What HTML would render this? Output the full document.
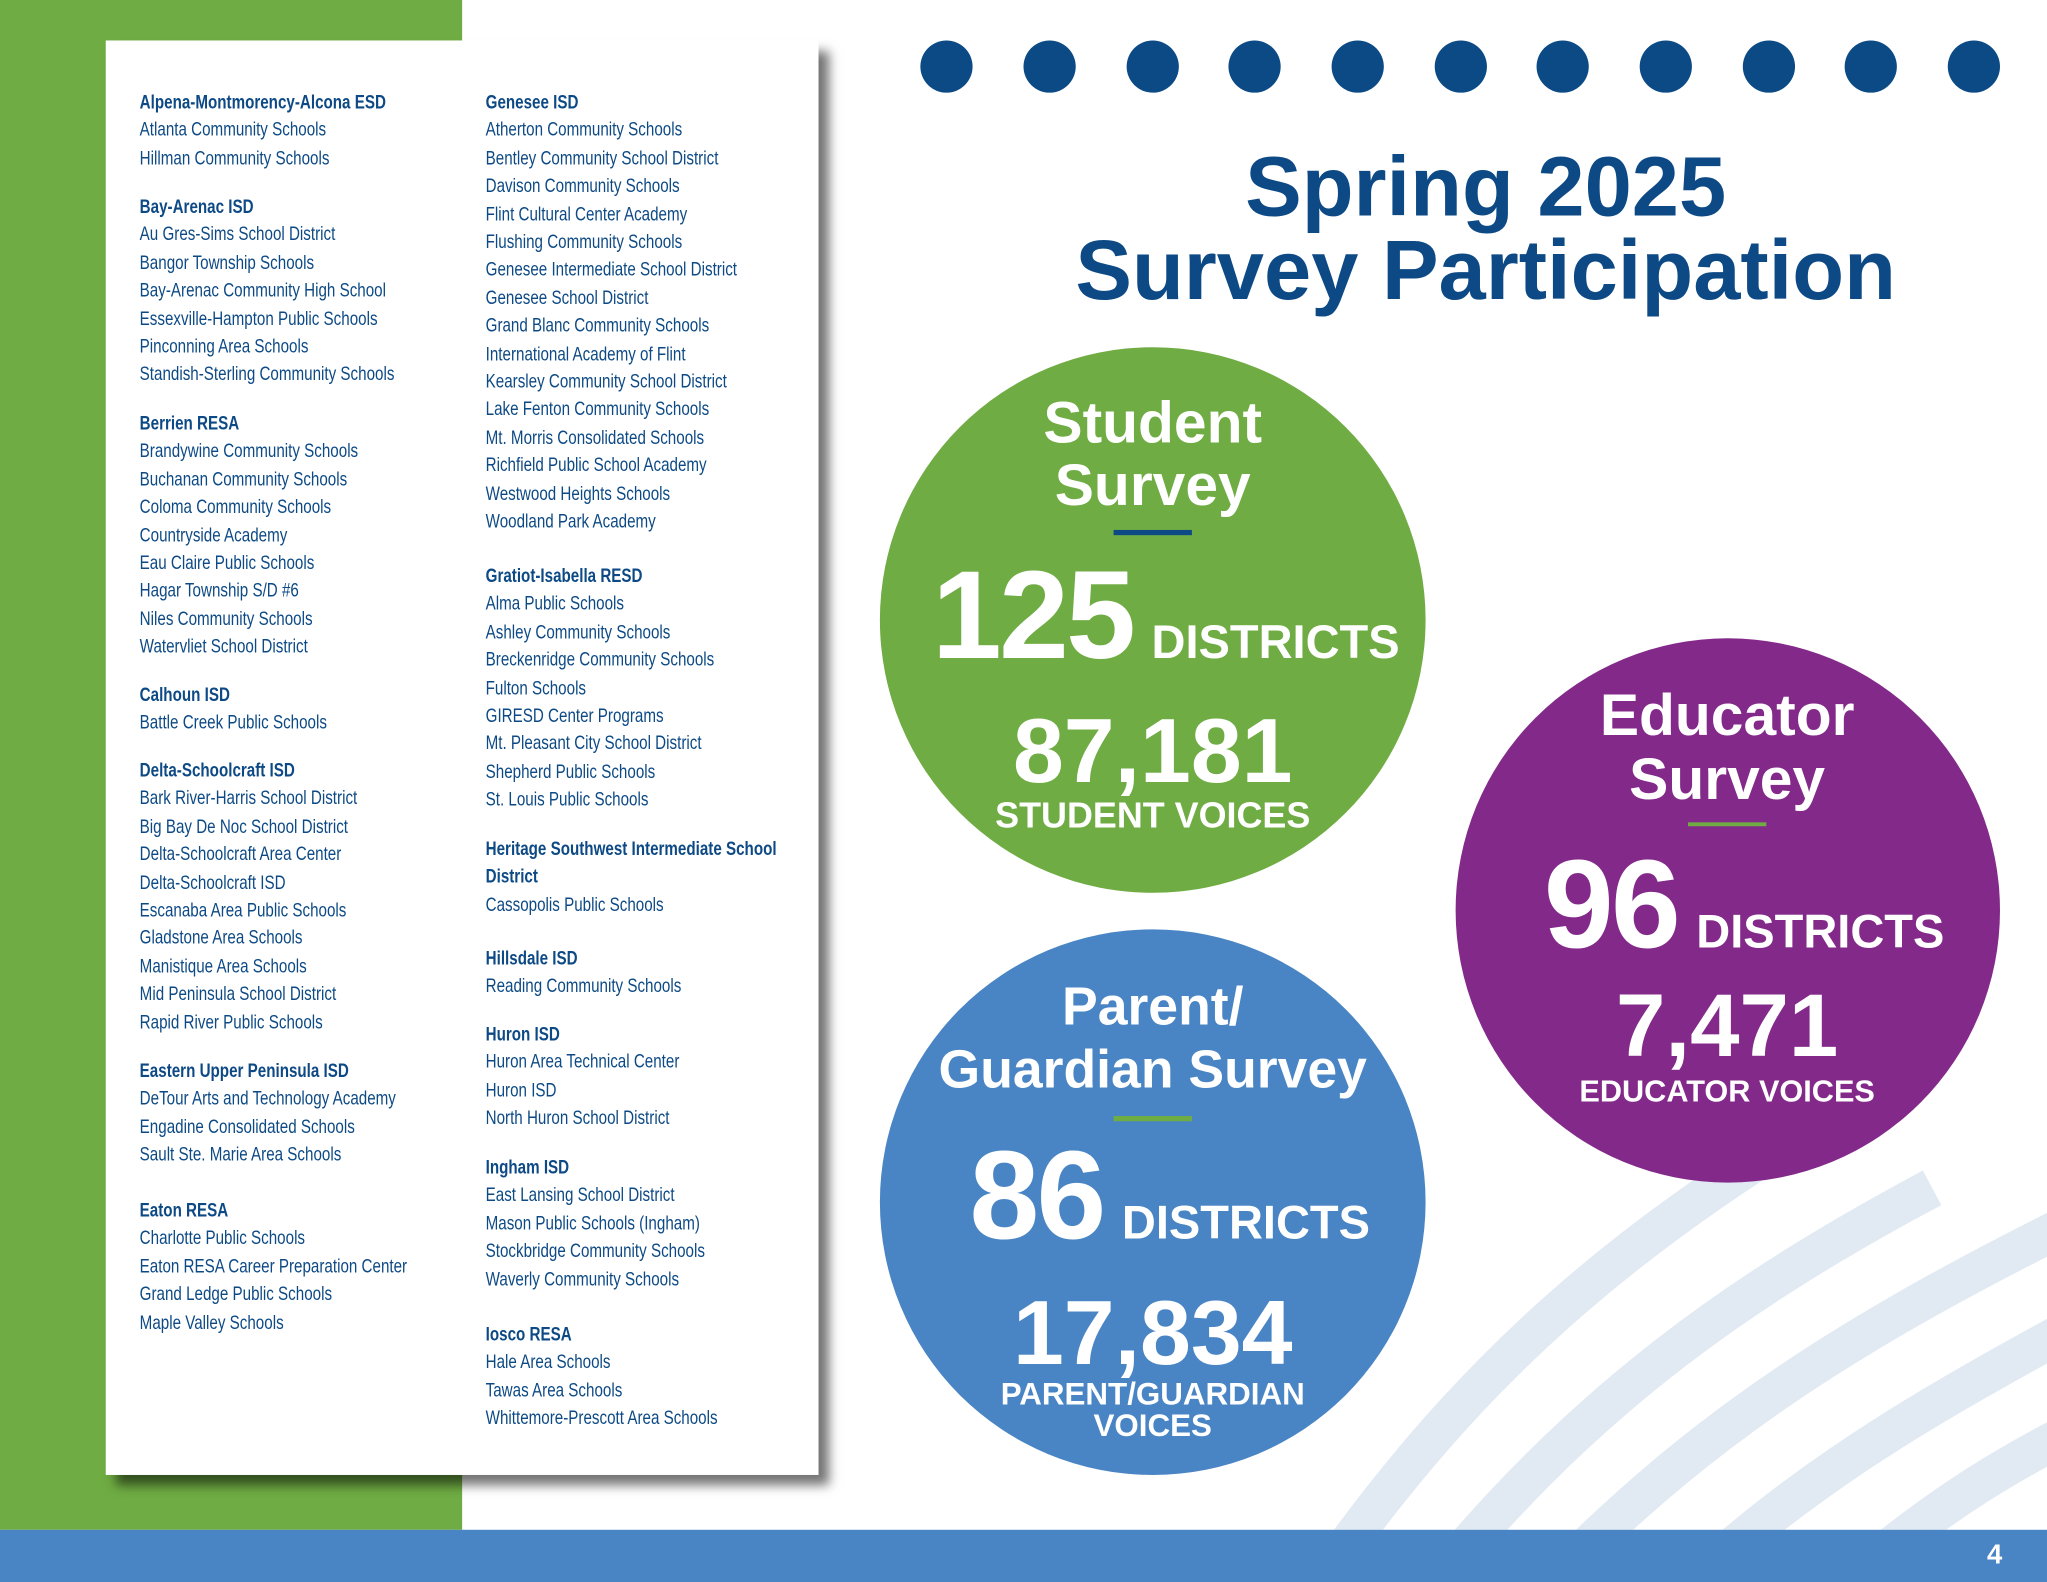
<!DOCTYPE html>
<html><head><meta charset="utf-8"><style>
*{margin:0;padding:0;box-sizing:border-box}
html,body{width:2047px;height:1582px;overflow:hidden;background:#fff}
#w{position:absolute;left:0;top:0;width:1568px;height:1212px;transform:scale(1.30548,1.30528);transform-origin:0 0;font-family:"Liberation Sans",sans-serif;color:#0d4a85}
.a{position:absolute}
.list{position:absolute;font-family:"Liberation Sans",sans-serif;font-size:15px;line-height:21.4px;color:#0d4a85;white-space:nowrap;transform:scaleX(0.775);transform-origin:0 0}
.list b{display:block;font-weight:bold}
.list span{display:block}
.c{position:absolute;border-radius:50%}
.t{position:absolute;text-align:center;color:#fff;font-weight:bold;white-space:nowrap;line-height:1}
.dot{position:absolute;top:31px;width:40px;height:40px;border-radius:50%;background:#0b4a85}
</style></head><body><div id="w">
<div class="a" style="left:0;top:0;width:354px;height:1172px;background:#6fac43"></div>
<svg class="a" style="left:1000px;top:800px" width="568" height="372" viewBox="0 0 568 372">
<g stroke="#e1eaf3" stroke-width="30" fill="none" stroke-linecap="butt">
<path d="M20 400 C120 260 220 170 360 80"/>
<path d="M110 400 C220 270 330 190 480 110"/>
<path d="M200 400 C310 290 420 220 580 140"/>
<path d="M310 400 C400 320 490 270 600 210"/>
<path d="M430 400 C490 350 540 320 600 290"/>
</g></svg>
<div class="a" style="left:0;top:1172px;width:1568px;height:40px;background:#4985c4"></div>
<div class="a" style="left:1522px;top:1180px;color:#fff;font-weight:bold;font-size:21px">4</div>
<div class="a" style="left:81px;top:31px;width:546px;height:1099px;background:#fff;box-shadow:8px 8px 8px rgba(0,0,0,.55)"></div>

<div class="list" style="left:107px;top:68px">
<b>Alpena-Montmorency-Alcona ESD</b><span>Atlanta Community Schools</span><span>Hillman Community Schools</span>
</div>
<div class="list" style="left:107px;top:148px">
<b>Bay-Arenac ISD</b><span>Au Gres-Sims School District</span><span>Bangor Township Schools</span><span>Bay-Arenac Community High School</span><span>Essexville-Hampton Public Schools</span><span>Pinconning Area Schools</span><span>Standish-Sterling Community Schools</span>
</div>
<div class="list" style="left:107px;top:314px">
<b>Berrien RESA</b><span>Brandywine Community Schools</span><span>Buchanan Community Schools</span><span>Coloma Community Schools</span><span>Countryside Academy</span><span>Eau Claire Public Schools</span><span>Hagar Township S/D #6</span><span>Niles Community Schools</span><span>Watervliet School District</span>
</div>
<div class="list" style="left:107px;top:522px">
<b>Calhoun ISD</b><span>Battle Creek Public Schools</span>
</div>
<div class="list" style="left:107px;top:580px">
<b>Delta-Schoolcraft ISD</b><span>Bark River-Harris School District</span><span>Big Bay De Noc School District</span><span>Delta-Schoolcraft Area Center</span><span>Delta-Schoolcraft ISD</span><span>Escanaba Area Public Schools</span><span>Gladstone Area Schools</span><span>Manistique Area Schools</span><span>Mid Peninsula School District</span><span>Rapid River Public Schools</span>
</div>
<div class="list" style="left:107px;top:810px">
<b>Eastern Upper Peninsula ISD</b><span>DeTour Arts and Technology Academy</span><span>Engadine Consolidated Schools</span><span>Sault Ste. Marie Area Schools</span>
</div>
<div class="list" style="left:107px;top:917px">
<b>Eaton RESA</b><span>Charlotte Public Schools</span><span>Eaton RESA Career Preparation Center</span><span>Grand Ledge Public Schools</span><span>Maple Valley Schools</span>
</div>

<div class="list" style="left:372px;top:68px">
<b>Genesee ISD</b><span>Atherton Community Schools</span><span>Bentley Community School District</span><span>Davison Community Schools</span><span>Flint Cultural Center Academy</span><span>Flushing Community Schools</span><span>Genesee Intermediate School District</span><span>Genesee School District</span><span>Grand Blanc Community Schools</span><span>International Academy of Flint</span><span>Kearsley Community School District</span><span>Lake Fenton Community Schools</span><span>Mt. Morris Consolidated Schools</span><span>Richfield Public School Academy</span><span>Westwood Heights Schools</span><span>Woodland Park Academy</span>
</div>
<div class="list" style="left:372px;top:431px">
<b>Gratiot-Isabella RESD</b><span>Alma Public Schools</span><span>Ashley Community Schools</span><span>Breckenridge Community Schools</span><span>Fulton Schools</span><span>GIRESD Center Programs</span><span>Mt. Pleasant City School District</span><span>Shepherd Public Schools</span><span>St. Louis Public Schools</span>
</div>
<div class="list" style="left:372px;top:640px">
<b>Heritage Southwest Intermediate School</b><b>District</b><span>Cassopolis Public Schools</span>
</div>
<div class="list" style="left:372px;top:724px">
<b>Hillsdale ISD</b><span>Reading Community Schools</span>
</div>
<div class="list" style="left:372px;top:782px">
<b>Huron ISD</b><span>Huron Area Technical Center</span><span>Huron ISD</span><span>North Huron School District</span>
</div>
<div class="list" style="left:372px;top:884px">
<b>Ingham ISD</b><span>East Lansing School District</span><span>Mason Public Schools (Ingham)</span><span>Stockbridge Community Schools</span><span>Waverly Community Schools</span>
</div>
<div class="list" style="left:372px;top:1012px">
<b>Iosco RESA</b><span>Hale Area Schools</span><span>Tawas Area Schools</span><span>Whittemore-Prescott Area Schools</span>
</div>

<div class="dot" style="left:705px"></div><div class="dot" style="left:784px"></div><div class="dot" style="left:863px"></div><div class="dot" style="left:941px"></div><div class="dot" style="left:1020px"></div><div class="dot" style="left:1099px"></div><div class="dot" style="left:1177px"></div><div class="dot" style="left:1256px"></div><div class="dot" style="left:1335px"></div><div class="dot" style="left:1413px"></div><div class="dot" style="left:1492px"></div>

<div class="a" style="left:738px;top:111px;width:800px;text-align:center;font-weight:bold;font-size:65px;line-height:64px;color:#0d4a85">Spring 2025<br>Survey Participation</div>

<div class="c" style="left:674px;top:266px;width:418px;height:418px;background:#6fac43"></div>
<div class="t" style="left:683px;top:300px;width:400px;font-size:45px;line-height:48px">Student<br>Survey</div>
<div class="a" style="left:853px;top:406px;width:60px;height:4px;background:#0d4a85"></div>
<div class="t" style="left:683px;top:424px;width:420px;display:flex;justify-content:center;align-items:baseline;gap:14px"><span style="font-size:96px;letter-spacing:-2px">125</span><span style="font-size:36px">DISTRICTS</span></div>
<div class="t" style="left:683px;top:540px;width:400px;font-size:70px">87,181</div>
<div class="t" style="left:683px;top:611px;width:400px;font-size:27.5px">STUDENT VOICES</div>

<div class="c" style="left:1115px;top:489px;width:417px;height:417px;background:#83298a"></div>
<div class="t" style="left:1123px;top:523px;width:400px;font-size:45px;line-height:49px">Educator<br>Survey</div>
<div class="a" style="left:1293px;top:630px;width:60px;height:3px;background:#6fac43"></div>
<div class="t" style="left:1126px;top:646px;width:420px;display:flex;justify-content:center;align-items:baseline;gap:14px"><span style="font-size:96px;letter-spacing:-2px">96</span><span style="font-size:36px">DISTRICTS</span></div>
<div class="t" style="left:1123px;top:752px;width:400px;font-size:68px">7,471</div>
<div class="t" style="left:1123px;top:825px;width:400px;font-size:23.5px">EDUCATOR VOICES</div>

<div class="c" style="left:674px;top:712px;width:418px;height:418px;background:#4985c4"></div>
<div class="t" style="left:683px;top:747px;width:400px;font-size:41px;line-height:48px">Parent/<br>Guardian Survey</div>
<div class="a" style="left:853px;top:855px;width:60px;height:4px;background:#6fac43"></div>
<div class="t" style="left:686px;top:869px;width:420px;display:flex;justify-content:center;align-items:baseline;gap:14px"><span style="font-size:96px;letter-spacing:-2px">86</span><span style="font-size:36px">DISTRICTS</span></div>
<div class="t" style="left:683px;top:986px;width:400px;font-size:70px">17,834</div>
<div class="t" style="left:683px;top:1057px;width:400px;font-size:24px;line-height:24px">PARENT/GUARDIAN<br>VOICES</div>
</div></body></html>
